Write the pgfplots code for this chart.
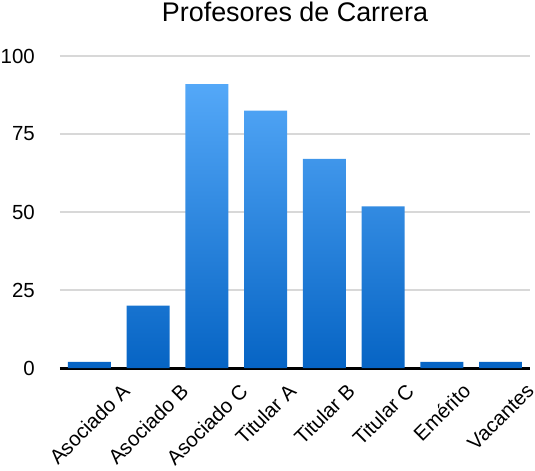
\documentclass[border=0pt]{standalone}
\usepackage{fontspec}
\setmainfont{Liberation Sans}
\usepackage{graphicx}
\usepackage{pgfplots}
\pgfplotsset{compat=1.18}
\definecolor{barTop}{RGB}{84,168,248}
\definecolor{barBot}{RGB}{6,100,196}
\definecolor{gridc}{RGB}{216,216,216}
\begin{document}
\begin{tikzpicture}
\path[use as bounding box] (-60bp,-103bp) rectangle (475bp,368bp);
\begin{axis}[
  scale only axis,
  width=470bp, height=312bp,
  xmin=-0.5, xmax=7.5, ymin=0, ymax=100,
  ytick={0,25,50,75,100},
  xtick={0,1,2,3,4,5,6,7},
  xticklabels={\rotatebox{45}{Asociado A},\rotatebox{45}{Asociado B},\rotatebox{45}{Asociado C},\rotatebox{45}{Titular A},\rotatebox{45}{Titular B},\rotatebox{45}{Titular C},\rotatebox{45}{Emérito},\rotatebox{45}{Vacantes}},
  major tick length=0pt,
  ymajorgrids,
  grid style={gridc, line width=1.5bp},
  axis lines*=left,
  y axis line style={draw=none},
  x axis line style={-, black, line width=3bp},
  /pgf/number format/assume math mode=true,
  tick label style={font=\fontsize{20.5}{24}\selectfont},
  yticklabel style={anchor=east, inner sep=0pt, xshift=-25bp},
  xticklabel style={anchor=north, inner sep=0pt, yshift=-14bp},
  title={Profesores de Carrera},
  title style={at={(0.5,1)}, anchor=base, yshift=29bp, inner sep=0pt, font=\fontsize{27}{32}\selectfont},
  clip=false,
]
\addplot[ybar, bar width=43bp, bar shift=0pt, draw=none, top color=barTop, bottom color=barBot]
  coordinates {(0,2) (1,20) (2,91) (3,82.5) (4,67) (5,51.8) (6,2) (7,2)};
\end{axis}
\end{tikzpicture}
\end{document}
